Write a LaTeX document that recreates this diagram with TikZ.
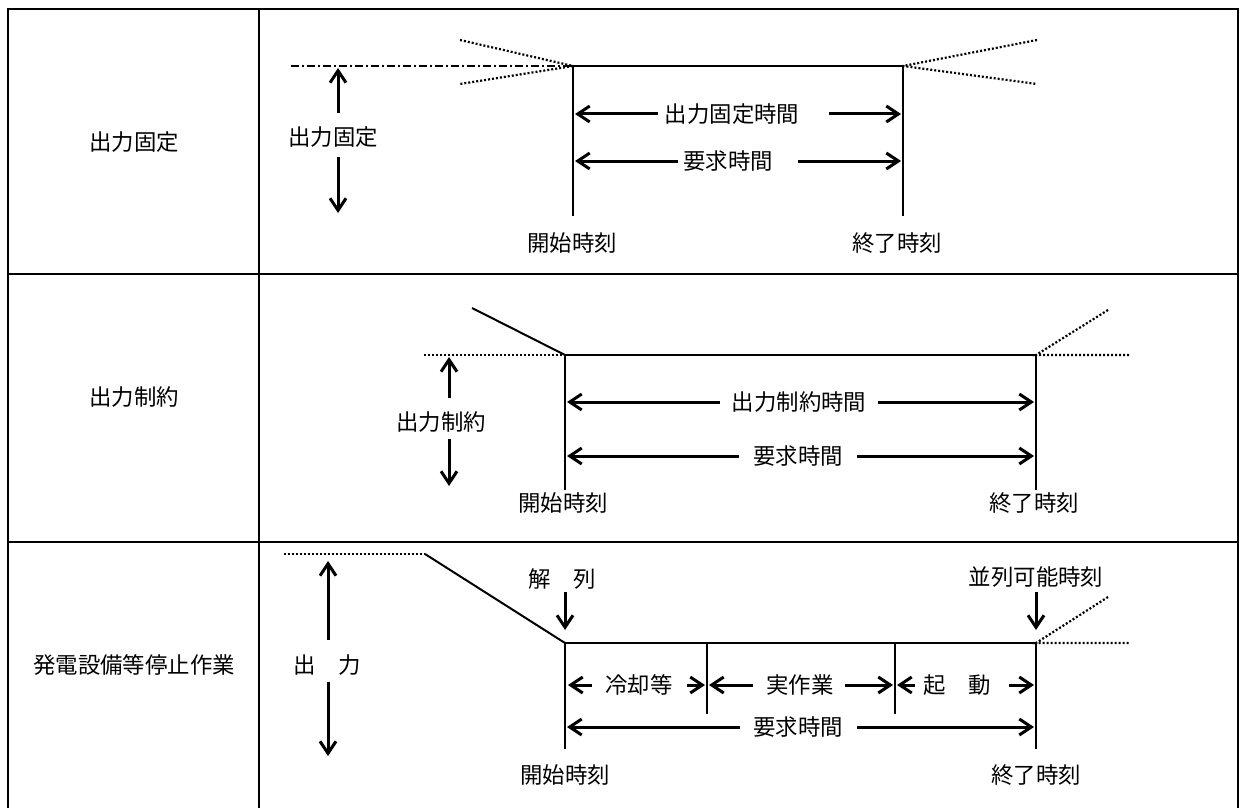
\documentclass[tikz,border=0pt]{standalone}
\usepackage{fontspec}
\setmainfont{Noto Sans CJK JP}
\usetikzlibrary{arrows.meta}
\begin{document}
\begin{tikzpicture}[x=0.5pt,y=-0.5pt,
  frame/.style={line width=1.2pt},
  solidln/.style={line width=1pt},
  dotln/.style={line width=1.1pt,dash pattern=on 1pt off 1pt},
  dashdotln/.style={line width=1.1pt,dash pattern=on 4pt off 1.5pt on 1pt off 1.5pt},
  arr/.style={line width=1.5pt,-{Straight Barb[length=6pt,width=8pt,line width=1.5pt]}},
  lbl/.style={inner sep=0pt,font=\fontsize{11.2pt}{13pt}\selectfont}]
\useasboundingbox (0,0) rectangle (1242,808);
% table frame
\coordinate (tl) at (8,9); \coordinate (tr) at (1238,9);
\coordinate (bl) at (8,812); \coordinate (br) at (1238,812);
\coordinate (ct) at (259,9); \coordinate (cb) at (259,812);
\coordinate (h1l) at (8,274); \coordinate (h1r) at (1238,274);
\coordinate (h2l) at (8,542); \coordinate (h2r) at (1238,542);
\draw[frame] (bl) -- (tl) -- (tr) -- (br);
\draw[frame] (ct) -- (cb);
\draw[frame] (h1l) -- (h1r);
\draw[frame] (h2l) -- (h2r);
% left labels
\node[lbl] (L1) at (134,142) {出力固定};
\node[lbl] (L2) at (134,397) {出力制約};
\node[lbl] (L3) at (134,665) {発電設備等停止作業};

% ---------- row 1 ----------
\coordinate (r1a) at (291,66); \coordinate (r1s) at (573,66); \coordinate (r1e) at (903,66);
\coordinate (r1sb) at (573,216); \coordinate (r1eb) at (903,216);
\coordinate (d1a) at (460,40); \coordinate (d1b) at (460,84);
\coordinate (d1c) at (1037,40); \coordinate (d1d) at (1037,84);
\draw[dashdotln] (r1a) -- (r1s);
\draw[dotln] (d1a) -- (r1s) -- (d1b);
\draw[dotln] (d1c) -- (r1e) -- (d1d);
\draw[solidln] (r1sb) -- (r1s) -- (r1e) -- (r1eb);
\node[lbl] (v1) at (333,137) {出力固定};
\coordinate (v1a) at (338,113); \coordinate (v1b) at (338,68);
\coordinate (v1c) at (338,157); \coordinate (v1d) at (338,213);
\draw[arr] (v1a) -- (v1b);
\draw[arr] (v1c) -- (v1d);
\node[lbl] (t11) at (732,114) {出力固定時間};
\coordinate (t11a) at (658,114); \coordinate (t11b) at (575,114);
\coordinate (t11c) at (829,114); \coordinate (t11d) at (901,114);
\draw[arr] (t11a) -- (t11b);
\draw[arr] (t11c) -- (t11d);
\node[lbl] (t12) at (728,161) {要求時間};
\coordinate (t12a) at (678,161); \coordinate (t12b) at (575,161);
\coordinate (t12c) at (798,161); \coordinate (t12d) at (901,161);
\draw[arr] (t12a) -- (t12b);
\draw[arr] (t12c) -- (t12d);
\node[lbl] (s1) at (572,243) {開始時刻};
\node[lbl] (e1) at (897,243) {終了時刻};

% ---------- row 2 ----------
\coordinate (r2d) at (472,308); \coordinate (r2o) at (424,355);
\coordinate (r2s) at (565,355); \coordinate (r2e) at (1036,355);
\coordinate (r2sb) at (565,490); \coordinate (r2eb) at (1036,490);
\coordinate (d2a) at (1108,310); \coordinate (d2b) at (1130,355);
\draw[solidln] (r2d) -- (r2s);
\draw[dotln] (r2o) -- (r2s);
\draw[solidln] (r2sb) -- (r2s) -- (r2e) -- (r2eb);
\draw[dotln] (d2a) -- (r2e) -- (d2b);
\node[lbl] (v2) at (441,422) {出力制約};
\coordinate (v2a) at (449,398); \coordinate (v2b) at (449,357);
\coordinate (v2c) at (449,439); \coordinate (v2d) at (449,486);
\draw[arr] (v2a) -- (v2b);
\draw[arr] (v2c) -- (v2d);
\node[lbl] (t21) at (799,402) {出力制約時間};
\coordinate (t21a) at (720,402); \coordinate (t21b) at (567,402);
\coordinate (t21c) at (878,402); \coordinate (t21d) at (1034,402);
\draw[arr] (t21a) -- (t21b);
\draw[arr] (t21c) -- (t21d);
\node[lbl] (t22) at (798,456) {要求時間};
\coordinate (t22a) at (739,456); \coordinate (t22b) at (567,456);
\coordinate (t22c) at (857,456); \coordinate (t22d) at (1034,456);
\draw[arr] (t22a) -- (t22b);
\draw[arr] (t22c) -- (t22d);
\node[lbl] (s2) at (563,503) {開始時刻};
\node[lbl] (e2) at (1034,503) {終了時刻};

% ---------- row 3 ----------
\coordinate (r3o) at (284,554); \coordinate (r3k) at (425,554);
\coordinate (r3s) at (565,643); \coordinate (r3e) at (1036,643);
\coordinate (r3sb) at (565,749); \coordinate (r3eb) at (1036,749);
\coordinate (m1t) at (707,643); \coordinate (m1b) at (707,714);
\coordinate (m2t) at (895,643); \coordinate (m2b) at (895,714);
\coordinate (d3a) at (1108,597); \coordinate (d3b) at (1130,643);
\draw[dotln] (r3o) -- (r3k);
\draw[solidln] (r3k) -- (r3s);
\draw[solidln] (r3sb) -- (r3s) -- (r3e) -- (r3eb);
\draw[solidln] (m1t) -- (m1b);
\draw[solidln] (m2t) -- (m2b);
\draw[dotln] (d3a) -- (r3e) -- (d3b);
\node[lbl] (kai) at (562,579) {解　列};
\coordinate (kaia) at (565,592); \coordinate (kaib) at (565,630);
\draw[arr] (kaia) -- (kaib);
\node[lbl] (hei) at (1036,577) {並列可能時刻};
\coordinate (heia) at (1036,592); \coordinate (heib) at (1036,630);
\draw[arr] (heia) -- (heib);
\node[lbl] (v3) at (327,665) {出　力};
\coordinate (v3a) at (328,640); \coordinate (v3b) at (328,561);
\coordinate (v3c) at (328,682); \coordinate (v3d) at (328,756);
\draw[arr] (v3a) -- (v3b);
\draw[arr] (v3c) -- (v3d);
\node[lbl] (rk) at (639,685) {冷却等};
\coordinate (rka) at (592,685); \coordinate (rkb) at (568,685);
\coordinate (rkc) at (687,685); \coordinate (rkd) at (705,685);
\draw[arr] (rka) -- (rkb);
\draw[arr] (rkc) -- (rkd);
\node[lbl] (js) at (800,685) {実作業};
\coordinate (jsa) at (753,685); \coordinate (jsb) at (709,685);
\coordinate (jsc) at (845,685); \coordinate (jsd) at (893,685);
\draw[arr] (jsa) -- (jsb);
\draw[arr] (jsc) -- (jsd);
\node[lbl] (kd) at (957,685) {起　動};
\coordinate (kda) at (915,685); \coordinate (kdb) at (897,685);
\coordinate (kdc) at (1009,685); \coordinate (kdd) at (1034,685);
\draw[arr] (kda) -- (kdb);
\draw[arr] (kdc) -- (kdd);
\node[lbl] (t32) at (798,727) {要求時間};
\coordinate (t32a) at (740,727); \coordinate (t32b) at (567,727);
\coordinate (t32c) at (857,727); \coordinate (t32d) at (1034,727);
\draw[arr] (t32a) -- (t32b);
\draw[arr] (t32c) -- (t32d);
\node[lbl] (s3) at (565,775) {開始時刻};
\node[lbl] (e3) at (1036,775) {終了時刻};
\end{tikzpicture}
\end{document}
